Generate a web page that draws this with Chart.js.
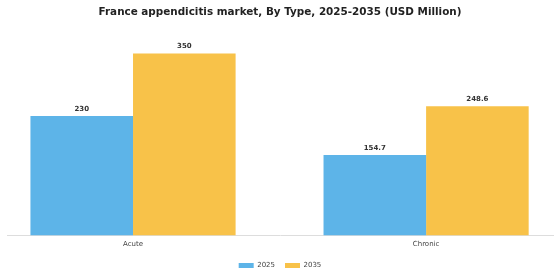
<!DOCTYPE html>
<html>
<head>
<meta charset="utf-8">
<script src="https://cdn.jsdelivr.net/npm/chart.js@4.4.0/dist/chart.umd.min.js"></script>
<style>
html,body{margin:0;padding:0;background:#fff;}
#wrap{width:560px;height:280px;}
</style>
</head>
<body>
<div id="wrap"><canvas id="c"></canvas></div>
<script>
const categories = ['Acute', 'Chronic'];
const seriesNames = ['2025', '2035'];
const values2025 = [230, 154.7];
const values2035 = [350, 248.6];
const colors = ['#5DB4E8', '#F8C249'];

const toPoints = arr => arr.map((v, i) => ({x: i, y: v}));

const labelPlugin = {
  id: 'barLabels',
  afterDatasetsDraw(chart) {
    const ctx = chart.ctx;
    ctx.save();
    ctx.font = 'bold 7px "DejaVu Sans"';
    ctx.fillStyle = '#333';
    ctx.textAlign = 'center';
    ctx.textBaseline = 'middle';
    chart.data.datasets.forEach((ds, di) => {
      chart.getDatasetMeta(di).data.forEach((bar, i) => {
        const v = ds.data[i].y;
        ctx.fillText(String(v), bar.x, bar.y - 7);
      });
    });
    ctx.restore();
  }
};

new Chart(document.getElementById('c'), {
  type: 'bar',
  data: {
    datasets: [
      {label: seriesNames[0], data: toPoints(values2025), backgroundColor: colors[0]},
      {label: seriesNames[1], data: toPoints(values2035), backgroundColor: colors[1]}
    ]
  },
  options: {
    responsive: true,
    maintainAspectRatio: false,
    animation: false,
    barPercentage: 1,
    categoryPercentage: 0.70,
    layout: {padding: {left: 7, right: 7, top: 0, bottom: 1}},
    plugins: {
      title: {
        display: true,
        text: 'France appendicitis market, By Type, 2025-2035 (USD Million)',
        font: {family: 'DejaVu Sans', size: 10.4, weight: 'bold'},
        color: '#222',
        padding: {top: 6, bottom: 9}
      },
      legend: {
        position: 'bottom',
        labels: {
          boxWidth: 15, boxHeight: 5,
          font: {family: 'DejaVu Sans', size: 7},
          color: '#444',
          padding: 10
        }
      },
      tooltip: {enabled: false}
    },
    scales: {
      x: {
        type: 'linear',
        offset: false,
        min: -0.43, max: 1.433,
        grid: {display: false, drawTicks: false},
        border: {display: true, color: '#dddddd'},
        afterBuildTicks: s => { s.ticks = [{value: 0}, {value: 1}]; },
        ticks: {
          callback: v => categories[v],
          font: {family: 'DejaVu Sans', size: 7},
          color: '#444',
          padding: 4
        }
      },
      y: {
        display: false,
        min: 0, max: 400
      }
    }
  },
  plugins: [labelPlugin]
});
</script>
</body>
</html>
